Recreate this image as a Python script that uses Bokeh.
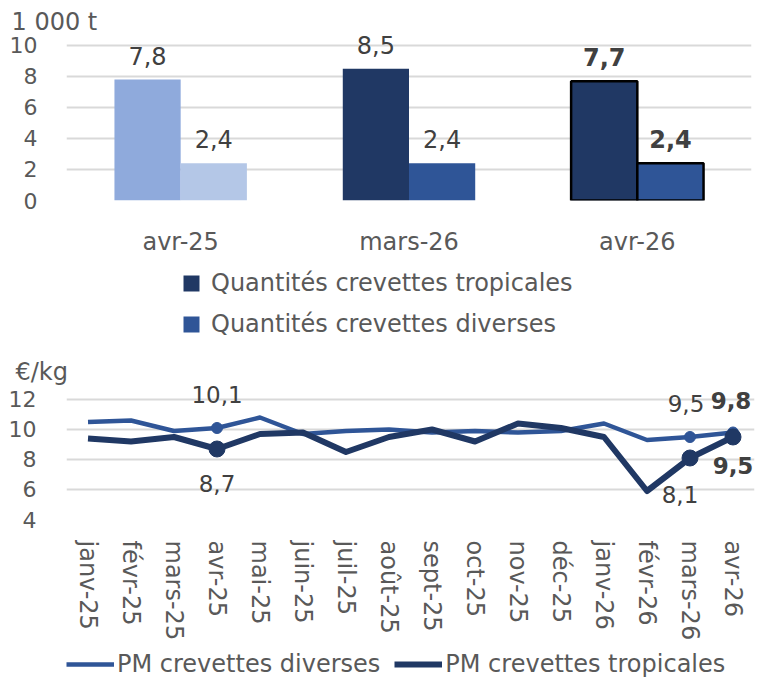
from bokeh.plotting import figure
from bokeh.models import (ColumnDataSource, FactorRange, Range1d, Legend, LegendItem,
                          FixedTicker)
from bokeh.transform import dodge
from bokeh.layouts import column
from bokeh.embed import file_html
from bokeh.resources import INLINE
from bokeh.core.properties import value

FONT = "DejaVu Sans"
TICK_COLOR = "#595959"
LABEL_COLOR = "#404040"
GRID_COLOR = "#D9D9D9"
TOTAL_W = 756

# ---------------- data: quantities (1 000 t) ----------------
periods = ["avr-25", "mars-26", "avr-26"]
qty_tropicales = [7.8, 8.5, 7.7]
qty_diverses = [2.4, 2.4, 2.4]
colors_tropicales = ["#8FAADC", "#203864", "#203864"]
colors_diverses = ["#B4C7E7", "#2F5597", "#2F5597"]
highlighted_period = "avr-26"
qty_ticks = [0, 2, 4, 6, 8, 10]

# ---------------- data: prices (€/kg) ----------------
months = ["janv-25", "févr-25", "mars-25", "avr-25", "mai-25", "juin-25", "juil-25",
          "août-25", "sept-25", "oct-25", "nov-25", "déc-25", "janv-26", "févr-26",
          "mars-26", "avr-26"]
pm_diverses = [10.5, 10.6, 9.9, 10.1, 10.8, 9.7, 9.9, 10.0, 9.8, 9.9, 9.8, 9.9,
               10.4, 9.3, 9.5, 9.8]
pm_tropicales = [9.4, 9.2, 9.5, 8.7, 9.7, 9.8, 8.5, 9.5, 10.0, 9.2, 10.4, 10.1,
                 9.5, 5.9, 8.1, 9.5]
marked_months = ["avr-25", "mars-26", "avr-26"]
price_ticks = [4, 6, 8, 10, 12]

LIGHT = "#2F5597"
DARK = "#203864"


def fmt(v):
    return f"{v:.1f}".replace(".", ",")


def style_axes(p, ticks):
    p.yaxis.ticker = FixedTicker(ticks=ticks)
    p.ygrid.ticker = FixedTicker(ticks=ticks)
    for ax in (p.xaxis[0], p.yaxis[0]):
        ax.axis_line_color = None
        ax.major_tick_line_color = None
        ax.minor_tick_line_color = None
        ax.major_tick_out = 0
        ax.minor_tick_out = 0
        ax.major_label_text_font = FONT
        ax.major_label_text_color = TICK_COLOR
    p.xaxis.major_label_text_font_size = "24px"
    p.yaxis.major_label_text_font_size = "22px"
    p.ygrid.grid_line_color = GRID_COLOR
    p.ygrid.grid_line_width = 2
    p.xgrid.grid_line_color = None
    p.outline_line_color = None
    p.title.align = "left"
    p.title.text_font = FONT
    p.title.text_font_size = "24px"
    p.title.text_font_style = "normal"
    p.title.text_color = TICK_COLOR
    p.title.standoff = 0


def legend_figure(height, factors):
    # a strip that only carries a legend; its renderers draw nothing visible
    f = figure(width=TOTAL_W, height=height, x_range=FactorRange(factors=factors),
               y_range=Range1d(-2, -1), min_border=0, x_axis_location=None,
               y_axis_location=None, output_backend="svg", toolbar_location=None)
    f.grid.visible = False
    f.outline_line_color = None
    return f


# ================= top chart =================
W = 0.29
p1 = figure(x_range=FactorRange(factors=periods), y_range=Range1d(0, 10.645),
            frame_width=685, frame_height=165, min_border_left=65, min_border_right=6,
            min_border_top=35, min_border_bottom=58, title="1 000 t",
            output_backend="svg", toolbar_location=None)
style_axes(p1, qty_ticks)
p1.yaxis.major_label_standoff = 29
p1.title.offset = -55
p1.xaxis.major_label_standoff = 27

outline = [1 if q == highlighted_period else 0 for q in periods]
src1 = ColumnDataSource(dict(period=periods, trop=qty_tropicales, div=qty_diverses,
                             ct=colors_tropicales, cd=colors_diverses, ol=outline))
bar_kw = dict(width=W, line_color="black", line_alpha="ol", line_width=2.5, source=src1)
p1.vbar(x=dodge("period", -W / 2, range=p1.x_range), top="trop", fill_color="ct", **bar_kw)
p1.vbar(x=dodge("period", W / 2, range=p1.x_range), top="div", fill_color="cd", **bar_kw)

for bold in (False, True):
    rows = [i for i, q in enumerate(periods) if (q == highlighted_period) == bold]
    for vals, off in ((qty_tropicales, -W / 2), (qty_diverses, W / 2)):
        s = ColumnDataSource(dict(period=[periods[i] for i in rows],
                                  y=[vals[i] for i in rows],
                                  t=[fmt(vals[i]) for i in rows]))
        p1.text(x=dodge("period", off, range=p1.x_range), y="y", text="t", source=s,
                text_align="center", text_baseline="middle", y_offset=-24,
                text_font=value(FONT), text_font_size="24px",
                text_font_style="bold" if bold else "normal", text_color=LABEL_COLOR)

# legend strip of the top chart (square swatches; size-0 markers draw nothing)
lg1 = legend_figure(86, periods)
l_trop = lg1.scatter(x="period", y="trop", marker="square", size=0, fill_color="ct",
                     line_color=None, source=src1)
l_div = lg1.scatter(x="period", y="div", marker="square", size=0, fill_color="cd",
                    line_color=None, source=src1)
lg1.add_layout(Legend(
    items=[LegendItem(label="Quantités crevettes tropicales", renderers=[l_trop], index=1),
           LegendItem(label="Quantités crevettes diverses", renderers=[l_div], index=1)],
    location=(105, 0), orientation="vertical", padding=0, margin=0,
    border_line_color=None, background_fill_alpha=0,
    glyph_width=40, glyph_height=40, label_standoff=-6, spacing=1,
    label_text_font=FONT, label_text_font_size="24px",
    label_text_color=TICK_COLOR, label_height=28))

# ================= bottom chart =================
p2 = figure(x_range=FactorRange(factors=months), y_range=Range1d(4, 12.933),
            frame_width=688, frame_height=134, min_border_left=66, min_border_right=2,
            min_border_top=41, min_border_bottom=121, title="€/kg",
            output_backend="svg", toolbar_location=None)
style_axes(p2, price_ticks)
p2.yaxis.major_label_standoff = 30
p2.title.offset = -51
p2.xaxis.major_label_standoff = 21
p2.xaxis.major_label_orientation = "vertical"

src2 = ColumnDataSource(dict(month=months, div=pm_diverses, trop=pm_tropicales))
p2.line(x="month", y="div", source=src2, line_color=LIGHT, line_width=4.5, line_join="round")
p2.line(x="month", y="trop", source=src2, line_color=DARK, line_width=6, line_join="round")

idx = [months.index(m) for m in marked_months]
sd = ColumnDataSource(dict(month=[months[i] for i in idx], y=[pm_diverses[i] for i in idx]))
st = ColumnDataSource(dict(month=[months[i] for i in idx], y=[pm_tropicales[i] for i in idx]))
p2.scatter(x="month", y="y", source=sd, size=11, fill_color=LIGHT, line_color=LIGHT)
p2.scatter(x="month", y="y", source=st, size=16, fill_color=DARK, line_color=DARK)

# data labels: (series, month) -> (x offset, y offset, bold)  [style only]
label_style = {
    ("div", "avr-25"): (0, -33, False),
    ("div", "mars-26"): (-4, -33, False),
    ("div", "avr-26"): (-2, -32, True),
    ("trop", "avr-25"): (0, 35, False),
    ("trop", "mars-26"): (-10, 37, False),
    ("trop", "avr-26"): (0, 29, True),
}
series = {"div": pm_diverses, "trop": pm_tropicales}
for bold in (False, True):
    rows = [(k, m) for (k, m), (_, _, b) in label_style.items() if b == bold]
    s = ColumnDataSource(dict(
        month=[m for k, m in rows],
        y=[series[k][months.index(m)] for k, m in rows],
        t=[fmt(series[k][months.index(m)]) for k, m in rows],
        xo=[label_style[(k, m)][0] for k, m in rows],
        yo=[label_style[(k, m)][1] for k, m in rows]))
    p2.text(x="month", y="y", text="t", source=s, x_offset="xo", y_offset="yo",
            text_align="center", text_baseline="middle",
            text_font=value(FONT), text_font_size="23px",
            text_font_style="bold" if bold else "normal", text_color=LABEL_COLOR)

# legend strip of the bottom chart (its lines lie above the visible y range)
lg2 = legend_figure(35, months)
l_ld = lg2.line(x="month", y="div", source=src2, line_color=LIGHT, line_width=4.5)
l_lt = lg2.line(x="month", y="trop", source=src2, line_color=DARK, line_width=6)
lg2.add_layout(Legend(
    items=[LegendItem(label="PM crevettes diverses", renderers=[l_ld]),
           LegendItem(label="PM crevettes tropicales", renderers=[l_lt])],
    location=(0, 0), orientation="horizontal", padding=0, margin=0,
    border_line_color=None, background_fill_alpha=0,
    glyph_width=48, glyph_height=20, label_standoff=3, spacing=14,
    label_text_font=FONT, label_text_font_size="24px",
    label_text_color=TICK_COLOR, label_height=28))

layout = column(p1, lg1, p2, lg2, spacing=0)
open("out.html", "w").write(file_html(layout, INLINE))
